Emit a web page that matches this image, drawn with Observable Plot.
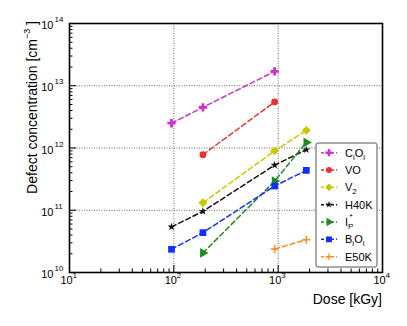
<!DOCTYPE html>
<html>
<head>
<meta charset="utf-8">
<script src="https://cdn.jsdelivr.net/npm/d3@7"></script>
<script src="https://cdn.jsdelivr.net/npm/@observablehq/plot@0.6"></script>
<style>
  html, body { margin: 0; padding: 0; background: #fff; }
  #chart { width: 407px; height: 326px; }
  svg { font-family: "Liberation Sans", Arial, sans-serif; }
</style>
</head>
<body>
<div id="chart"></div>
<script>
// ---- data ----
const doses = [95, 190, 925, 1860];
const seriesNames = ["CiOi", "VO", "V2", "H40K", "IP", "BiOi", "E50K"];
const CiOi = [2.5e12, 4.5e12, 1.7e13, null];
const VO   = [null, 7.8e11, 5.5e12, null];
const V2   = [null, 1.32e11, 9.0e11, 1.92e12];
const H40K = [5.4e10, 9.6e10, 5.3e11, 9.4e11];
const IP   = [null, 2.06e10, 2.94e11, 1.23e12];
const BiOi = [2.36e10, 4.37e10, 2.45e11, 4.37e11];
const E50K = [null, null, 2.38e10, 3.37e10];
const xTickExp = [1, 2, 3, 4];
const yTickExp = [10, 11, 12, 13, 14];

// ---- styles ----
const colors = {CiOi: "#cc33cc", VO: "#e8302c", V2: "#c8c800", H40K: "#111111", IP: "#1f8a1f", BiOi: "#1030ff", E50K: "#ff8c1a"};
const symbols = {CiOi: "cross", VO: "circle", V2: "diamond2", H40K: "star", IP: "triangle", BiOi: "square", E50K: "plus"};
const sizes = {CiOi: 3.5, VO: 3.4, V2: 4.0, H40K: 2.5, IP: 3.6, BiOi: 3.8, E50K: 2.7};
const rotations = {IP: 90};

const valuesBy = {CiOi, VO, V2, H40K, IP, BiOi, E50K};
const table = [];
for (const s of seriesNames) {
  valuesBy[s].forEach((v, i) => { if (v != null) table.push({series: s, dose: doses[i], value: v}); });
}

const W = 407, H = 326, mL = 69, mR = 25, mT = 23, mB = 54;
const fW = W - mL - mR, fH = H - mT - mB;

const xMinor = [], yMinor = [];
for (let e = 1; e < 4; e++) for (let k = 2; k <= 9; k++) xMinor.push(k * 10 ** e);
for (let e = 10; e < 14; e++) for (let k = 2; k <= 9; k++) yMinor.push(k * 10 ** e);
const xMajor = xTickExp.map(e => 10 ** e);
const yMajor = yTickExp.map(e => 10 ** e);

const marks = [
  Plot.gridX([100, 1000], {stroke: "#666", strokeOpacity: 1, strokeWidth: 1, strokeDasharray: "1,1.5"}),
  Plot.gridY([1e11, 1e12, 1e13], {stroke: "#666", strokeOpacity: 1, strokeWidth: 1, strokeDasharray: "1,1.5"}),
  // inside ticks
  Plot.tickX(xMajor, {x: d => d, insetTop: fH - 7, stroke: "#000", strokeWidth: 1}),
  Plot.tickX(xMinor, {x: d => d, insetTop: fH - 3.5, stroke: "#000", strokeWidth: 1}),
  Plot.tickY(yMajor, {y: d => d, insetRight: fW - 7, stroke: "#000", strokeWidth: 1}),
  Plot.tickY(yMinor, {y: d => d, insetRight: fW - 3.5, stroke: "#000", strokeWidth: 1}),
  // tick labels
  Plot.text(xTickExp, {x: d => 10 ** d, text: () => "10", frameAnchor: "bottom", dy: 11, dx: -3, fontSize: 11, fill: "#000"}),
  Plot.text(xTickExp, {x: d => 10 ** d, text: d => String(d), frameAnchor: "bottom", dy: 5, dx: 3, textAnchor: "start", fontSize: 8, fill: "#000"}),
  Plot.text(yTickExp, {y: d => 10 ** d, text: () => "10", frameAnchor: "left", dx: -16, dy: 2, textAnchor: "end", fontSize: 11, fill: "#000"}),
  Plot.text(yTickExp, {y: d => 10 ** d, text: d => String(d), frameAnchor: "left", dx: -15, dy: -4, textAnchor: "start", fontSize: 8, fill: "#000"}),
  Plot.frame({stroke: "#000", strokeWidth: 1.6})
];
for (const s of seriesNames) {
  const data = table.filter(d => d.series === s);
  marks.push(Plot.line(data, {x: "dose", y: "value", stroke: colors[s], strokeWidth: 1.5, strokeDasharray: "5,3"}));
}
for (const s of seriesNames) {
  const data = table.filter(d => d.series === s);
  const filled = symbols[s] !== "plus";
  marks.push(Plot.dot(data, {
    x: "dose", y: "value", symbol: () => symbols[s], r: sizes[s],
    rotate: rotations[s] || 0,
    fill: filled ? colors[s] : "none", stroke: filled ? "none" : colors[s], strokeWidth: 1.5
  }));
}

const plot = Plot.plot({
  width: W, height: H,
  marginLeft: mL, marginRight: mR, marginTop: mT, marginBottom: mB,
  x: {type: "log", domain: [10, 1e4], axis: null},
  y: {type: "log", domain: [1e10, 1e14], axis: null},
  style: {fontFamily: "'Liberation Sans', Arial, sans-serif", background: "#fff"},
  marks
});
document.getElementById("chart").appendChild(plot);

// ---- axis titles & legend ----
const svg = d3.select(plot);
svg.append("text")
  .attr("x", W - mR).attr("y", 304)
  .attr("text-anchor", "end").attr("font-size", 14).attr("fill", "#000")
  .text("Dose [kGy]");

const yt = svg.append("text")
  .attr("transform", `translate(37,${mT - 2}) rotate(-90)`)
  .attr("text-anchor", "end").attr("font-size", 14).attr("fill", "#000");
yt.append("tspan").text("Defect concentration [cm");
yt.append("tspan").attr("font-size", 9).attr("dy", -7).text("\u22123");
yt.append("tspan").attr("dy", 7).text(" ]");

const legendLabels = {
  CiOi: [["C", 0], ["i", 1], ["O", 0], ["i", 1]],
  VO: [["VO", 0]],
  V2: [["V", 0], ["2", 1]],
  H40K: [["H40K", 0]],
  IP: [["I", 0], ["P", 1], ["*", 2]],
  BiOi: [["B", 0], ["i", 1], ["O", 0], ["i", 1]],
  E50K: [["E50K", 0]]
};
const lg = svg.append("g");
lg.append("rect").attr("x", 316).attr("y", 143).attr("width", 61).attr("height", 124)
  .attr("rx", 2).attr("fill", "#fff").attr("stroke", "#555").attr("stroke-width", 1);
const symMap = {cross: d3.symbolCross, circle: d3.symbolCircle, diamond2: d3.symbolDiamond2, star: d3.symbolStar, triangle: d3.symbolTriangle, square: d3.symbolSquare, plus: d3.symbolPlus};
seriesNames.forEach((s, i) => {
  const y = 152.7 + i * 17.33;
  lg.append("line").attr("x1", 321).attr("x2", 337).attr("y1", y).attr("y2", y)
    .attr("stroke", colors[s]).attr("stroke-width", 1.5).attr("stroke-dasharray", "3,2");
  const filled = symbols[s] !== "plus";
  lg.append("path")
    .attr("d", d3.symbol(symMap[symbols[s]], Math.PI * sizes[s] * sizes[s] * 0.75)())
    .attr("transform", `translate(329,${y}) rotate(${rotations[s] || 0})`)
    .attr("fill", filled ? colors[s] : "none").attr("stroke", filled ? "none" : colors[s]).attr("stroke-width", 1.3);
  const t = lg.append("text").attr("x", 345).attr("y", y + 4).attr("text-anchor", "start")
    .attr("font-size", 11).attr("fill", "#000");
  let prev = 0;
  for (const [str, kind] of legendLabels[s]) {
    const target = kind === 1 ? 3 : kind === 2 ? -7 : 0;
    const sp = t.append("tspan").text(str).attr("dy", target - prev);
    if (kind === 2) sp.attr("dx", -4);
    if (kind) sp.attr("font-size", 8);
    prev = target;
  }
});
</script>
</body>
</html>
